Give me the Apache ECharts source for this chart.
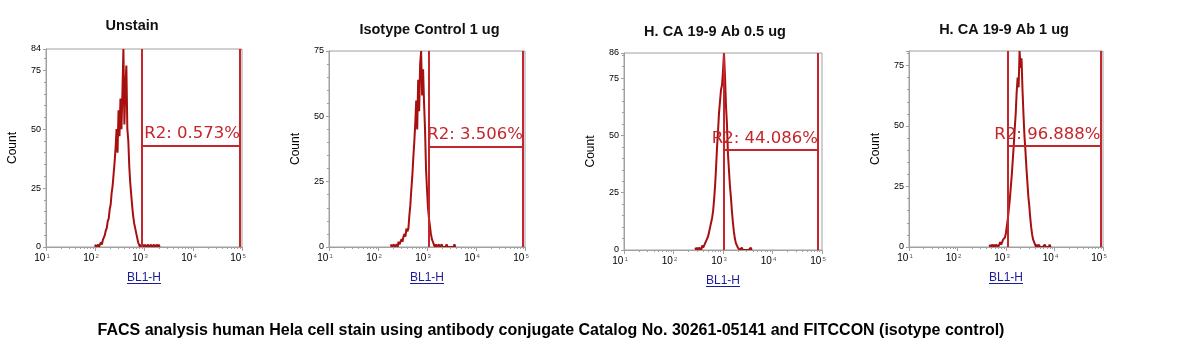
<!DOCTYPE html>
<html><head><meta charset="utf-8">
<script src="https://cdn.jsdelivr.net/npm/echarts@6/dist/echarts.min.js"></script>
<style>html,body{margin:0;padding:0;background:#fff}#c{width:1191px;height:363px}</style>
</head><body><div id="c"></div>
<script>
// ---------- DATA ----------
const panelTitles = ['Unstain', 'Isotype Control 1 ug', 'H. CA 19-9 Ab 0.5 ug', 'H. CA 19-9 Ab 1 ug'];
const regionLabels = ['R2: 0.573%', 'R2: 3.506%', 'R2: 44.086%', 'R2: 96.888%'];
const yMaxValues = [84, 75, 86, 81];
const yTickInterval = 25;
const xTickExponents = [1, 2, 3, 4, 5];
const xAxisName = 'BL1-H';
const yAxisName = 'Count';
const footerText = 'FACS analysis human Hela cell stain using antibody conjugate Catalog No. 30261-05141 and FITCCON (isotype control)';

// histogram channels: first channel (log10 of BL1-H) and channel width (decades)
const binStartExp = [2.00, 2.26, 2.44, 2.66];
const binStepExp = 0.02;

const unstainCounts = [1,0,0,1,0,1,2,1,3,4,5,7,8,11,12,16,18,23,26,31,36,42,50,40,58,47,63,50,66,84,52,68,77,50,45,34,27,22,17,13,10,8,6,4,2,1,0,1,0,1,0,1,0,0,1,0,0,1,0,0,1,0,0,1,0,1,0];
const isotypeCounts = [1,0,0,1,0,0,1,0,2,1,2,3,2,4,5,4,7,6,7,12,16,22,27,34,40,47,56,45,64,52,70,75,58,68,55,45,30,22,15,11,8,5,3,2,1,0,1,0,0,1,0,0,1,0,0,0,0,1,0,0,0,0,0,0,0,1,0];
const ab05Counts = [1,0,1,0,1,1,0,2,1,2,3,3,5,6,8,10,12,14,17,22,28,36,45,52,60,65,70,72,78,86,76,63,55,42,35,28,23,17,12,8,5,3,2,1,1,0,0,1,0,0,0,0,0,0,0,0,1,0];
const ab1Counts = [1,0,0,1,0,1,0,1,1,0,1,2,1,2,3,3,4,6,9,12,16,20,25,30,36,42,49,55,64,70,66,81,74,78,65,55,46,40,33,27,21,17,12,8,5,3,2,1,0,1,0,1,0,0,0,0,0,1,0,0,0,0,1,0];

const gateLow = [898, 1085, 1030, 1085];
const gateHigh = [91000, 91000, 83000, 89000];
const gateLevel = [43, 38.4, 43.7, 41.7];

// ---------- LAYOUT / STYLE ----------
const grids = [
  {left: 46, top: 49, width: 196, height: 198},
  {left: 329, top: 51, width: 196, height: 196},
  {left: 624, top: 53, width: 198, height: 197},
  {left: 909, top: 51, width: 194, height: 196}
];
const titleCenters = [127, 424.5, 710, 999];
const titleTops = [13, 17.5, 19.5, 17.5];
const histColor = '#a80f0f';
const gateColor = '#c4262b';
const axisGray = '#a0a0a0';

const allCounts = [unstainCounts, isotypeCounts, ab05Counts, ab1Counts];

const minorTickValues = [];
for (let e = 1; e < 5; e++) for (let m = 2; m <= 9; m++) minorTickValues.push(m * Math.pow(10, e));

const chart = echarts.init(document.getElementById('c'), null, {renderer: 'canvas'});

const option = {
  animation: false,
  backgroundColor: '#ffffff',
  title: [],
  grid: [],
  xAxis: [],
  yAxis: [],
  series: [],
  graphic: []
};

const ctx = document.createElement('canvas').getContext('2d');
ctx.font = '12px "Liberation Sans"';
const nameW = ctx.measureText(xAxisName).width;

grids.forEach((g, p) => {
  option.grid.push(Object.assign({show: true, borderColor: axisGray, borderWidth: 1, backgroundColor: '#fff'}, g));
  option.title.push({
    text: panelTitles[p], left: titleCenters[p], top: titleTops[p], textAlign: 'center',
    textStyle: {fontFamily: 'Liberation Sans', fontWeight: 'bold', fontSize: 14.5, color: '#111'}
  });
  // main log axis
  option.xAxis.push({
    type: 'log', logBase: 10, gridIndex: p, min: 10, max: 100000, interval: 1,
    position: 'bottom', z: 4,
    name: xAxisName, nameLocation: 'middle', nameGap: 25,
    nameTextStyle: {fontFamily: 'Liberation Sans', fontSize: 12, color: '#1c1c96'},
    axisLine: {show: true, lineStyle: {color: axisGray, width: 1}},
    axisTick: {show: true, length: 4, lineStyle: {color: axisGray}},
    splitLine: {show: false},
    axisLabel: {
      margin: 6,
      formatter: v => '{b|10}{s|' + Math.round(Math.log10(v)) + '}',
      rich: {
        b: {fontFamily: 'Liberation Sans', fontSize: 10, color: '#000'},
        s: {fontFamily: 'Liberation Sans', fontSize: 6, color: '#555', verticalAlign: 'top', padding: [0, 8, 0, 1]}
      }
    }
  });
  // minor log ticks
  option.xAxis.push({
    type: 'log', logBase: 10, gridIndex: p, min: 10, max: 100000, z: 4,
    position: 'bottom',
    axisLine: {show: false},
    axisLabel: {show: false},
    splitLine: {show: false},
    axisTick: {show: true, length: 2, customValues: minorTickValues, lineStyle: {color: axisGray}}
  });
  option.yAxis.push({
    type: 'value', gridIndex: p, min: 0, max: yMaxValues[p], interval: yTickInterval,
    name: yAxisName, nameLocation: 'middle', nameGap: 27, nameRotate: 90,
    nameTextStyle: {fontFamily: 'Liberation Sans', fontSize: 12, color: '#000'},
    axisLine: {show: true, lineStyle: {color: axisGray}},
    axisTick: {show: true, length: 3, lineStyle: {color: axisGray}},
    minorTick: {show: true, splitNumber: 5, length: 2, lineStyle: {color: axisGray}},
    splitLine: {show: false},
    axisLabel: {margin: 5, fontFamily: 'Liberation Sans', fontSize: 9, color: '#000', showMaxLabel: p !== 3}
  });
  const data = allCounts[p].map((c, i) => [Math.pow(10, binStartExp[p] + i * binStepExp), c]);
  const lab = {show: true, position: 'insideEndTop', formatter: regionLabels[p], distance: [0, 3],
    fontFamily: 'DejaVu Sans', fontSize: 16.5, color: gateColor};
  option.series.push({
    type: 'line', xAxisIndex: p * 2, yAxisIndex: p, data: data,
    showSymbol: false, symbol: 'none', z: 3,
    lineStyle: {color: histColor, width: 2},
    markLine: {
      silent: true, symbol: ['none', 'none'], animation: false,
      label: {show: false},
      lineStyle: {color: gateColor, width: 2, type: 'solid'},
      emphasis: {disabled: true},
      data: [
        {xAxis: gateLow[p]},
        {xAxis: gateHigh[p]},
        [{coord: [gateLow[p], gateLevel[p]], label: lab}, {coord: [gateHigh[p], gateLevel[p]], label: lab}]
      ]
    }
  });
  option.graphic.push({
    type: 'line', z: 10, silent: true,
    shape: {x1: g.left + g.width / 2 - nameW / 2, y1: g.top + g.height + 36.5, x2: g.left + g.width / 2 + nameW / 2, y2: g.top + g.height + 36.5},
    style: {stroke: '#1c1c96', lineWidth: 1}
  });
});

option.title.push({
  text: footerText, left: 546, top: 318, textAlign: 'center',
  textStyle: {fontFamily: 'Liberation Sans', fontWeight: 'bold', fontSize: 16, color: '#000'}
});

chart.setOption(option);
</script>
</body></html>
